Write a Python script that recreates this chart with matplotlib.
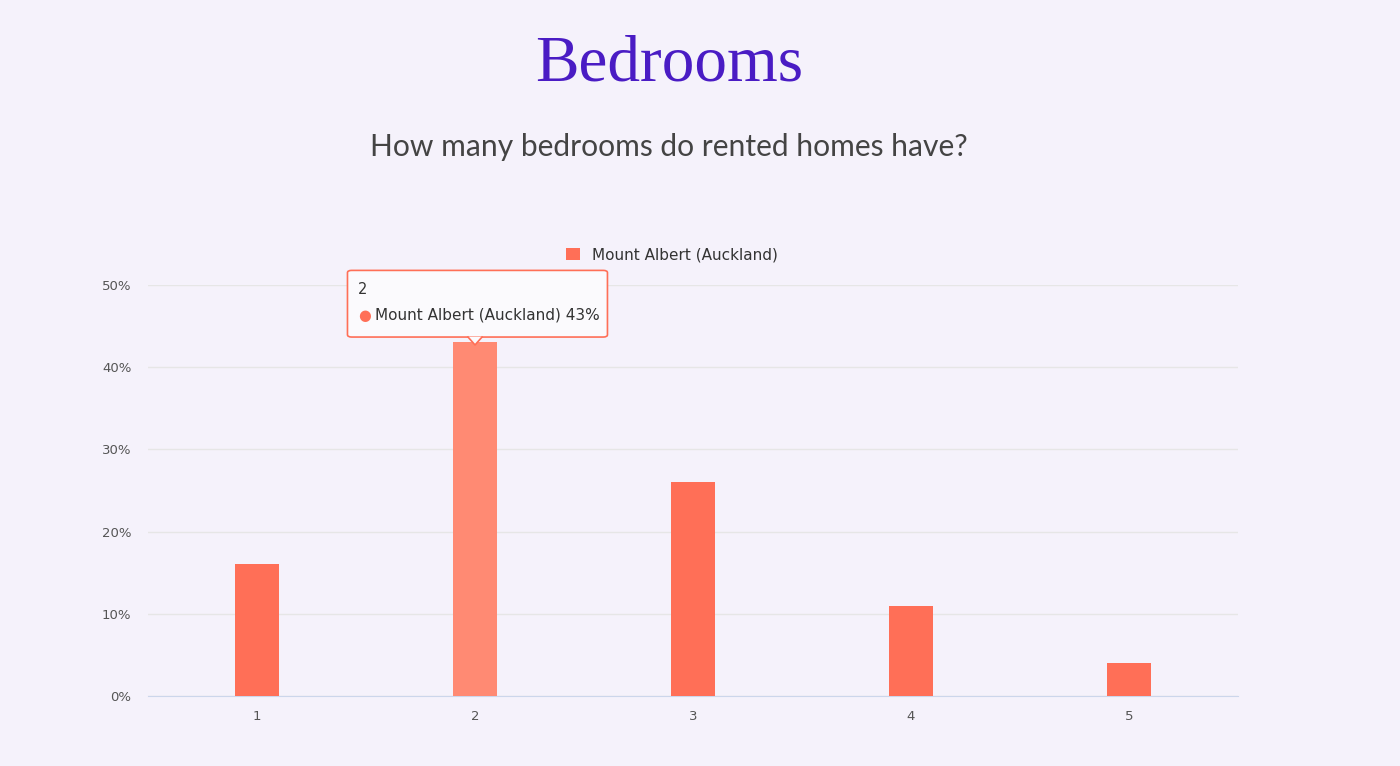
import matplotlib.pyplot as plt
from matplotlib.patches import FancyBboxPatch, Polygon

categories = ['1', '2', '3', '4', '5']
shares = [16, 43, 26, 11, 4]
series_name = 'Mount Albert (Auckland)'
y_ticks = [0, 10, 20, 30, 40, 50]
hovered = 1

bg = '#f5f2fb'
bar_color = '#ff6f57'
hover_color = '#ff8a73'

fig = plt.figure(figsize=(14, 7.66), dpi=100, facecolor=bg)
ax = fig.add_axes([0.1057, 0.0914, 0.7786, 0.5366], facecolor=bg)

x = list(range(len(categories)))
colors = [hover_color if i == hovered else bar_color for i in x]
ax.bar(x, shares, width=0.2, color=colors, zorder=3, label=series_name)

ax.set_xlim(-0.5, len(categories) - 0.5)
ax.set_ylim(0, 50)
ax.set_xticks(x)
ax.set_xticklabels(categories)
ax.set_yticks(y_ticks)
ax.set_yticklabels([f'{v}%' for v in y_ticks])
ax.tick_params(axis='both', length=0, labelsize=9.5, labelcolor='#555555')
ax.tick_params(axis='x', pad=10)
ax.tick_params(axis='y', pad=12)
ax.grid(axis='y', color='#e6e6e6', linewidth=1, zorder=0)
for side in ['top', 'right', 'left']:
    ax.spines[side].set_visible(False)
ax.spines['bottom'].set_color('#ccd6eb')

# legend above the plot
leg = ax.legend(loc='lower center', bbox_to_anchor=(0.481, 1.022), frameon=False,
                handlelength=0.9, handleheight=0.9, fontsize=11, labelcolor='#333333')

# tooltip over the hovered bar
tip = FancyBboxPatch((0.2482, 0.56), 0.1857, 0.087, transform=fig.transFigure,
                     boxstyle='round,pad=0,rounding_size=0.003',
                     facecolor='#fbfafd', edgecolor=bar_color, linewidth=1.2, zorder=10)
fig.patches.append(tip)
fig.patches.append(Polygon([[0.3343, 0.5605], [0.3393, 0.5497], [0.3443, 0.5605]],
                           closed=True, transform=fig.transFigure,
                           facecolor='#fbfafd', edgecolor='none', zorder=11))
fig.lines.append(plt.Line2D([0.3343, 0.3393, 0.3443], [0.5600, 0.5497, 0.5600],
                            transform=fig.transFigure, color=bar_color, linewidth=1.2, zorder=12))
fig.text(0.2557, 0.622, categories[hovered], fontsize=10.5, color='#333333', va='center',
         zorder=13)
fig.text(0.2555, 0.5887, '\u25cf', fontsize=10.5, color=bar_color, va='center', zorder=13)
fig.text(0.268, 0.5887, f'{series_name} {shares[hovered]}%', fontsize=11,
         color='#333333', va='center', zorder=13)

fig.text(0.478, 0.915, 'Bedrooms', fontsize=47, color='#4a1cc4', ha='center', va='center',
         family='Liberation Serif')
fig.text(0.4777, 0.808, 'How many bedrooms do rented homes have?', fontsize=21.6,
         color='#444444', ha='center', va='center', family='Lato')

fig.savefig('out.png', dpi=100, facecolor=bg)
